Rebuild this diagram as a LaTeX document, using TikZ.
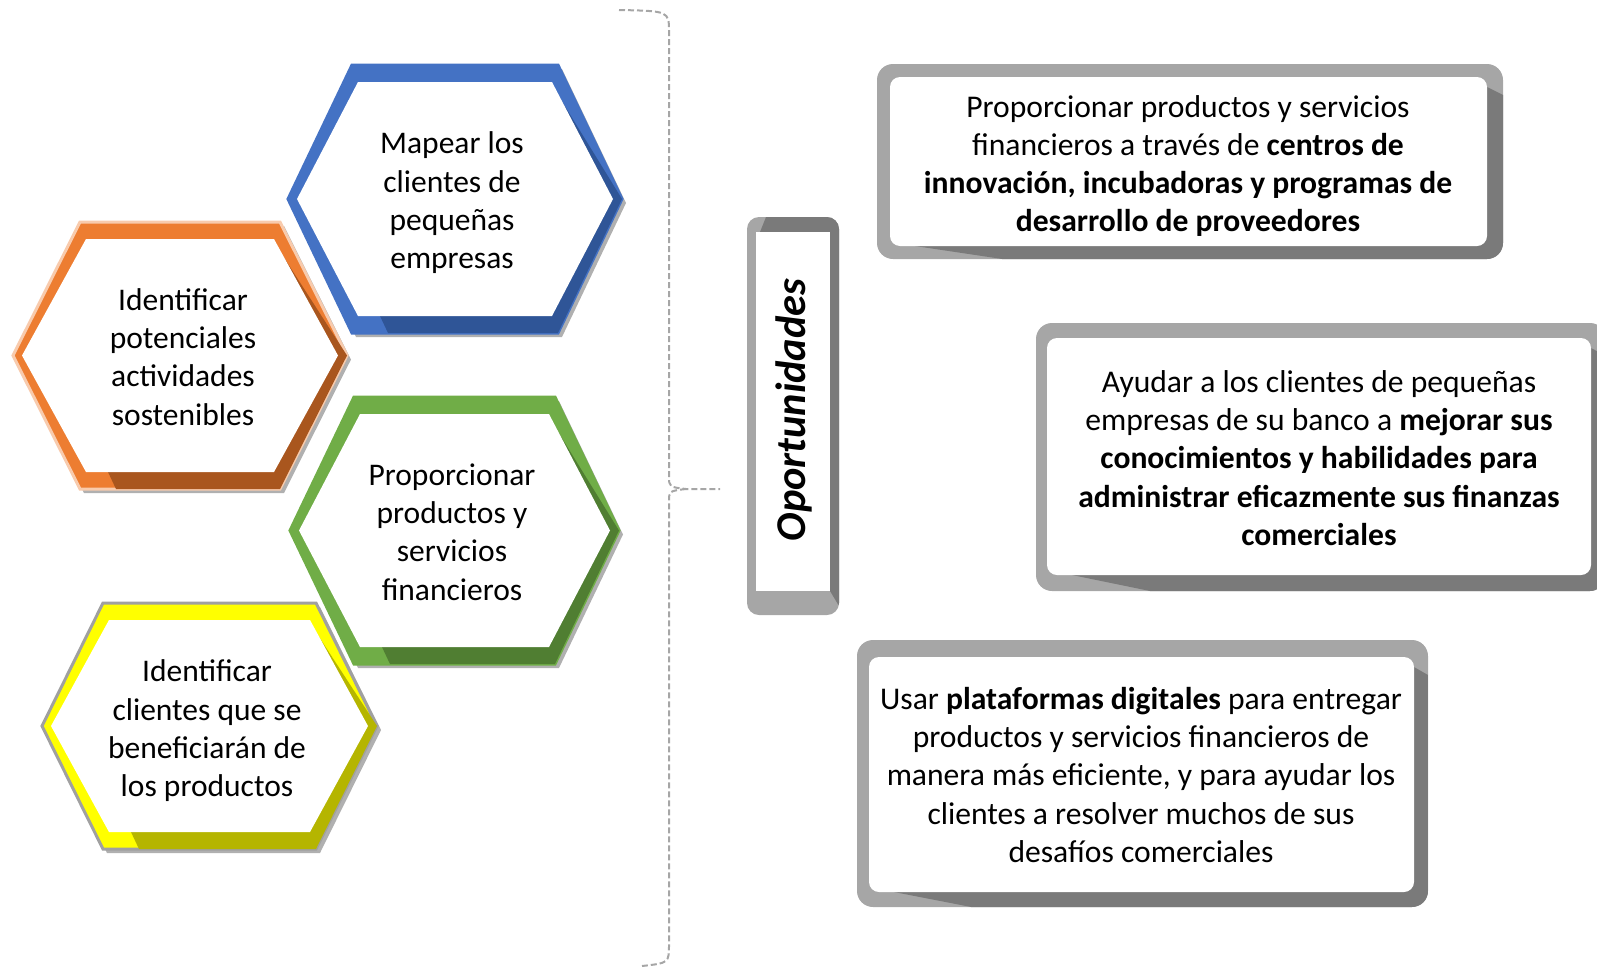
\documentclass[tikz,border=0pt]{standalone}
\usepackage{fontspec}
\setmainfont{Carlito}
\definecolor{bluelight}{HTML}{4472C4}
\definecolor{bluedark}{HTML}{2F5597}
\definecolor{orangelight}{HTML}{ED7D31}
\definecolor{orangedark}{HTML}{A9561E}
\definecolor{orangeedge}{HTML}{F8CBAD}
\definecolor{greenlight}{HTML}{70AD47}
\definecolor{greendark}{HTML}{507E32}
\definecolor{yellowlight}{HTML}{FFFF00}
\definecolor{yellowdark}{HTML}{B5B500}
\definecolor{yellowedge}{HTML}{A0A0A0}
\definecolor{framelight}{HTML}{A6A6A6}
\definecolor{framedark}{HTML}{7A7A7A}
\definecolor{shadowgray}{HTML}{B0B0B0}
\definecolor{bracegray}{HTML}{A6A6A6}
% hexagon frame: xl, xr, yt, yb, offset, light, dark, edge
\newcommand{\hexfr}[8]{%
  \pgfmathsetmacro\hyc{(#3+#4)/2}
  \fill[shadowgray] ({#1+4},{\hyc+4}) -- ({#1+#5+4},{#3+4}) -- ({#2-#5+4},{#3+4}) -- ({#2+4},{\hyc+4}) -- ({#2-#5+4},{#4+4}) -- ({#1+#5+4},{#4+4}) -- cycle;
  \filldraw[fill=#6, draw=#8, line width=1.5] (#1,\hyc) -- ({#1+#5},#3) -- ({#2-#5},#3) -- (#2,\hyc) -- ({#2-#5},#4) -- ({#1+#5},#4) -- cycle;
  \fill[#7] ({#2-#5-8},{#3+17}) -- (#2,\hyc) -- ({#2-#5},#4) -- ({#1+#5+36},#4) -- ({#1+#5+28},{#4-17}) -- cycle;
  \fill[white] ({#1+9},\hyc) -- ({#1+#5+6},{#3+17}) -- ({#2-#5-6},{#3+17}) -- ({#2-9},\hyc) -- ({#2-#5-6},{#4-17}) -- ({#1+#5+6},{#4-17}) -- cycle;
}
% box frame: outer xl, xr, yt, yb, inner xl, xr, yt, yb
\newcommand{\boxfr}[8]{%
  \fill[framelight, rounded corners=8pt] (#1,#3) rectangle (#2,#4);
  \begin{scope}
    \clip[rounded corners=8pt] (#1,#3) rectangle (#2,#4);
    \fill[framedark] (#6,{#7+10}) -- (#2,{#7+18}) -- (#2,#4) -- ({#1+0.2*(#2-#1)},#4) -- ({#5+25},#8) -- cycle;
  \end{scope}
  \fill[white, rounded corners=5pt] (#5,#7) rectangle (#6,#8);
}
\tikzset{
  hextext/.style={align=center, inner sep=0pt, font=\fontsize{15.75}{19.15}\selectfont},
  boxtext/.style={align=center, inner sep=0pt, font=\fontsize{15.8}{19.15}\selectfont},
  bracestyle/.style={draw=bracegray, line width=1, dash pattern=on 3pt off 1.5pt},
}
\begin{document}
\begin{tikzpicture}[x=0.5pt, y=-0.5pt]
\useasboundingbox (0,0) rectangle (1597,970);

% hexagons
\hexfr{288}{622}{65}{333}{64}{bluelight}{bluedark}{bluelight}
\hexfr{13}{347}{222}{489}{67}{orangelight}{orangedark}{orangeedge}
\hexfr{290}{619}{397}{664}{64}{greenlight}{greendark}{greenlight}
\hexfr{42}{377}{603}{849}{61}{yellowlight}{yellowdark}{yellowedge}

\node[hextext] (h1) at (452,203) {Mapear los\\clientes de\\pequeñas\\empresas};
\node[hextext] (h2) at (183,357) {Identificar\\potenciales\\actividades\\sostenibles};
\node[hextext] (h3) at (452,532) {Proporcionar\\productos y\\servicios\\financieros};
\node[hextext] (h4) at (207,731) {Identificar\\clientes que se\\beneficiarán de\\los productos};

% brace
\coordinate (bracetop) at (619,10);
\coordinate (bracetip) at (720,489);
\coordinate (bracebot) at (642,966);
\draw[bracestyle] (bracetop) .. controls (669,11) .. (669,32) -- (669,476) .. controls (669,487) .. (686,489) -- (bracetip);
\draw[bracestyle] (686,489) .. controls (669,491) .. (669,502) -- (669,944) .. controls (669,963) .. (bracebot);

% Oportunidades frame
\fill[framelight, rounded corners=6pt] (747,217) rectangle (839,615);
\begin{scope}
  \clip[rounded corners=6pt] (747,217) rectangle (839,615);
  \fill[framedark] (766,217) -- (839,217) -- (839,606) -- (830,591) -- (830,232) -- (760,232) -- cycle;
\end{scope}
\fill[white] (756,232) rectangle (830,591);
\node[rotate=90, inner sep=0pt, font=\fontsize{21.2}{24}\selectfont\bfseries\itshape] (op) at (794,410) {Oportunidades};

% right boxes
\boxfr{877}{1503}{64}{259}{890}{1487}{77}{246}
\boxfr{1036}{1606}{323}{591}{1047}{1591}{338}{575}
\boxfr{857}{1428}{640}{907}{869}{1414}{657}{892}

\node[boxtext] (b1) at (1188,166) {Proporcionar productos y servicios\\financieros a través de \textbf{centros de}\\\textbf{innovación, incubadoras y programas de}\\\textbf{desarrollo de proveedores}};
\node[boxtext] (b2) at (1319,458) {Ayudar a los clientes de pequeñas\\empresas de su banco a \textbf{mejorar sus}\\\textbf{conocimientos y habilidades para}\\\textbf{administrar eficazmente sus finanzas}\\\textbf{comerciales}};
\node[boxtext] (b3) at (1141,775) {Usar \textbf{plataformas digitales} para entregar\\productos y servicios financieros de\\manera más eficiente, y para ayudar los\\clientes a resolver muchos de sus\\desafíos comerciales};
\end{tikzpicture}
\end{document}
